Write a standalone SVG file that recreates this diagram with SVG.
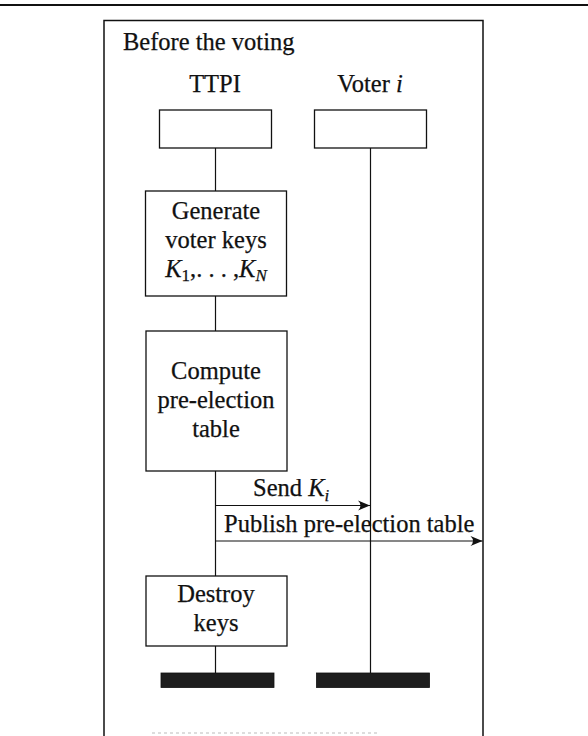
<svg xmlns="http://www.w3.org/2000/svg" width="588" height="736" viewBox="0 0 588 736">
  <style>
    .box { fill: #ffffff; stroke: #111111; stroke-width: 1.3; }
    .life { stroke: #111111; stroke-width: 1.2; fill: none; }
    .msg { stroke: #111111; stroke-width: 1.2; fill: none; marker-end: url(#tip); }
    .bar { fill: #1e1e1e; stroke: #111111; stroke-width: 0.8; }
    .frame { fill: none; stroke: #111111; stroke-width: 1.5; }
    text { font-family: "Liberation Serif", "Times New Roman", serif; font-size: 24.5px; fill: #111111; stroke: #111111; stroke-width: 0.25; }
    .c { text-anchor: middle; }
    .it { font-style: italic; }
    .sub { font-size: 17px; }
  </style>
  <defs>
    <marker id="tip" markerWidth="16" markerHeight="12" refX="13" refY="6" orient="auto" markerUnits="userSpaceOnUse">
      <path d="M13,6 L1,1 Q6,6 1,11 Z" fill="#111111"/>
    </marker>
  </defs>

  <!-- rule above the figure -->
  <line x1="0" y1="5" x2="588" y2="5" stroke="#111111" stroke-width="2"/>

  <!-- figure frame (open at the bottom) -->
  <polyline class="frame" points="104,736 104,20.5 483,20.5 483,736"/>
  <line x1="152" y1="733" x2="380" y2="733" stroke="#bbbbbb" stroke-width="1" stroke-dasharray="3 3"/>

  <text x="123" y="50">Before the voting</text>

  <!-- lifelines and messages -->
  <g id="connectors">
    <line class="life" x1="215.5" y1="148" x2="215.5" y2="191"/>
    <line class="life" x1="215.5" y1="296" x2="215.5" y2="331"/>
    <line class="life" x1="215.5" y1="471" x2="215.5" y2="576"/>
    <line class="life" x1="215.5" y1="646" x2="215.5" y2="673"/>
    <line class="life" x1="370.5" y1="148" x2="370.5" y2="673"/>
    <line class="msg" x1="215.5" y1="505.5" x2="370" y2="505.5"/>
    <line class="msg" x1="215.5" y1="541" x2="482.5" y2="541"/>
    <text x="253" y="496">Send <tspan class="it">K</tspan><tspan class="it sub" dy="5">i</tspan></text>
    <text x="224" y="532">Publish pre-election table</text>
  </g>

  <g id="ttpi">
    <text class="c" x="215" y="92">TTPI</text>
    <rect class="box" x="159.5" y="110" width="112" height="38"/>
  </g>

  <g id="voter">
    <text class="c" x="370" y="92">Voter <tspan class="it">i</tspan></text>
    <rect class="box" x="314.5" y="110" width="112" height="38"/>
  </g>

  <g id="generate">
    <rect class="box" x="145.5" y="191" width="141" height="105"/>
    <text class="c" x="216" y="219">Generate</text>
    <text class="c" x="216" y="248">voter keys</text>
    <text class="c" x="216" y="277"><tspan class="it">K</tspan><tspan class="sub" dy="4">1</tspan><tspan dy="-4">,. . . ,</tspan><tspan class="it">K</tspan><tspan class="it sub" dy="4">N</tspan></text>
  </g>

  <g id="compute">
    <rect class="box" x="146" y="331" width="141" height="140"/>
    <text class="c" x="216" y="379">Compute</text>
    <text class="c" x="216" y="408">pre-election</text>
    <text class="c" x="216" y="437">table</text>
  </g>

  <g id="destroy">
    <rect class="box" x="146" y="576" width="141" height="70"/>
    <text class="c" x="216" y="602">Destroy</text>
    <text class="c" x="216" y="631">keys</text>
  </g>

  <g id="ttpi-end">
    <rect class="bar" x="161" y="673" width="113" height="14.5"/>
  </g>
  <g id="voter-end">
    <rect class="bar" x="316.5" y="673" width="113" height="14.5"/>
  </g>
</svg>
